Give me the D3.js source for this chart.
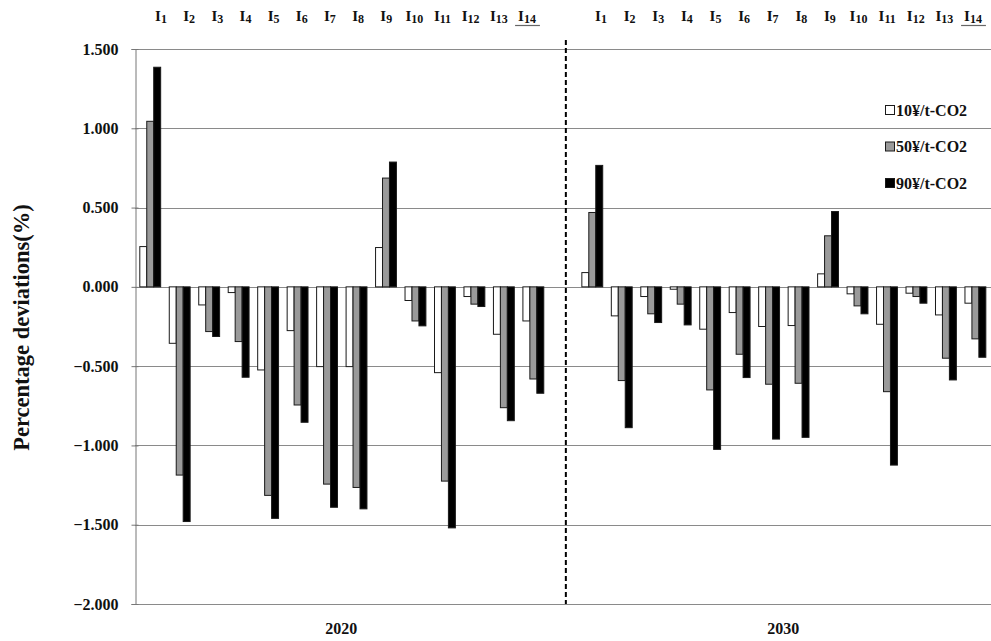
<!DOCTYPE html>
<html>
<head>
<meta charset="utf-8">
<script src="https://cdn.jsdelivr.net/npm/d3@7"></script>
<style>
  body { margin: 0; background: #fff; }
  svg { display: block; }
  text { font-family: "Liberation Serif", "Times New Roman", serif; font-weight: bold; fill: #111; }
</style>
</head>
<body>
<svg id="chart" width="991" height="641"></svg>
<script>
// Industries, scenario years and carbon-price series
const years = ["2020", "2030"];
const industries = ["I1","I2","I3","I4","I5","I6","I7","I8","I9","I10","I11","I12","I13","I14"];
const seriesNames = ["10¥/t-CO2", "50¥/t-CO2", "90¥/t-CO2"];
const yTicks = [1.5, 1.0, 0.5, 0.0, -0.5, -1.0, -1.5, -2.0];

// Percentage deviations (%) by industry
const dev2020_p10 = [0.254, -0.356, -0.114, -0.036, -0.524, -0.276, -0.503, -0.503, 0.248, -0.086, -0.541, -0.061, -0.299, -0.215];
const dev2020_p50 = [1.044, -1.187, -0.282, -0.345, -1.315, -0.745, -1.244, -1.265, 0.686, -0.215, -1.225, -0.109, -0.762, -0.581];
const dev2020_p90 = [1.385, -1.480, -0.313, -0.570, -1.460, -0.854, -1.390, -1.400, 0.787, -0.246, -1.520, -0.124, -0.844, -0.671];
const dev2030_p10 = [0.090, -0.183, -0.061, -0.015, -0.267, -0.162, -0.250, -0.244, 0.082, -0.044, -0.236, -0.040, -0.177, -0.103];
const dev2030_p50 = [0.469, -0.591, -0.170, -0.109, -0.650, -0.425, -0.614, -0.608, 0.322, -0.120, -0.661, -0.061, -0.450, -0.328];
const dev2030_p90 = [0.766, -0.888, -0.225, -0.240, -1.025, -0.572, -0.960, -0.949, 0.475, -0.170, -1.124, -0.103, -0.587, -0.444];

const seriesByYear = {
  "2020": [dev2020_p10, dev2020_p50, dev2020_p90],
  "2030": [dev2030_p10, dev2030_p50, dev2030_p90]
};
const fills = ["#ffffff", "#9a9a9a", "#000000"];

const svg = d3.select("#chart");
const plotLeft = 135, plotTop = 49, plotBottom = 604;

// One slot per industry in each year, with an empty slot between the years
const slots = [...industries.map(d => "2020|" + d), "gap", ...industries.map(d => "2030|" + d)];
const x = d3.scaleBand().domain(slots).range([plotLeft, plotLeft + slots.length * 29.47]);
const inner = d3.scaleBand().domain(seriesNames).range([4.3, x.bandwidth() - 4.3]);
const y = d3.scaleLinear().domain([-2, 1.5]).range([plotBottom, plotTop]);

// Horizontal gridlines
svg.append("g").selectAll("line").data(yTicks).join("line")
  .attr("x1", plotLeft).attr("x2", 991)
  .attr("y1", d => Math.round(y(d)) + 0.5).attr("y2", d => Math.round(y(d)) + 0.5)
  .attr("stroke", "#8a8a8a").attr("stroke-width", 1);

// Y axis with crossing tick marks
const yAxis = d3.axisLeft(y).tickValues(yTicks).tickFormat(d3.format(".3f")).tickSize(4).tickPadding(13);
const ya = svg.append("g").attr("transform", `translate(${plotLeft + 0.5},0)`).call(yAxis);
ya.attr("font-family", null).attr("font-size", null);
ya.select(".domain").attr("stroke", "#777");
ya.selectAll(".tick line").attr("stroke", "#777").attr("x2", -4).attr("x1", 3);
ya.selectAll(".tick text").style("font-size", "16px").attr("fill", "#111");

// Bars
years.forEach(yr => {
  seriesByYear[yr].forEach((vals, si) => {
    svg.append("g").selectAll("rect").data(vals).join("rect")
      .attr("x", (d, i) => x(yr + "|" + industries[i]) + inner(seriesNames[si]) + 0.5)
      .attr("width", inner.bandwidth())
      .attr("y", d => Math.min(y(d), y(0)))
      .attr("height", d => Math.abs(y(d) - y(0)))
      .attr("fill", fills[si])
      .attr("stroke", "#1a1a1a").attr("stroke-width", 1);
  });
});

// Dashed divider between the two years
const divX = x("gap") + x.bandwidth() * 0.62;
svg.append("line")
  .attr("x1", divX).attr("x2", divX).attr("y1", 40).attr("y2", plotBottom)
  .attr("stroke", "#000").attr("stroke-width", 2).attr("stroke-dasharray", "5,3");

// Industry labels across the top
const labelPos = {
  "2020": d3.scalePoint().domain(industries).range([161, 527]),
  "2030": d3.scalePoint().domain(industries).range([601, 973])
};
years.forEach(yr => {
  const g = svg.append("g");
  industries.forEach(ind => {
    const t = g.append("text").attr("x", labelPos[yr](ind)).attr("y", 21)
      .attr("text-anchor", "middle").style("font-size", "15px");
    t.append("tspan").text("I");
    t.append("tspan").style("font-size", "12px").attr("dy", 1.5).text(ind.slice(1));
    if (ind === "I14") {
      const bb = t.node().getBBox();
      g.append("line").attr("x1", bb.x - 3).attr("x2", bb.x + bb.width + 4)
        .attr("y1", 25.5).attr("y2", 25.5).attr("stroke", "#666").attr("stroke-width", 1.2);
    }
  });
});

// Year labels under the axis
years.forEach(yr => {
  const first = x(yr + "|I1"), last = x(yr + "|I14") + x.bandwidth();
  svg.append("text").attr("x", (first + last) / 2).attr("y", 634)
    .attr("text-anchor", "middle").style("font-size", "16px").text(yr);
});

// Y axis title
svg.append("text")
  .attr("transform", `translate(29,${(y(1.5) + y(-2)) / 2 + 1}) rotate(-90)`)
  .attr("text-anchor", "middle").style("font-size", "22.5px").text("Percentage deviations(%)");

// Legend
const lg = svg.append("g");
seriesNames.forEach((name, i) => {
  const cy = 110 + i * 36.5;
  lg.append("rect").attr("x", 885.5).attr("y", cy - 4.5).attr("width", 9).attr("height", 9)
    .attr("fill", fills[i]).attr("stroke", "#1a1a1a").attr("stroke-width", 1);
  lg.append("text").attr("x", 896).attr("y", cy + 5.5).style("font-size", "16px").text(name);
});
</script>
</body>
</html>
